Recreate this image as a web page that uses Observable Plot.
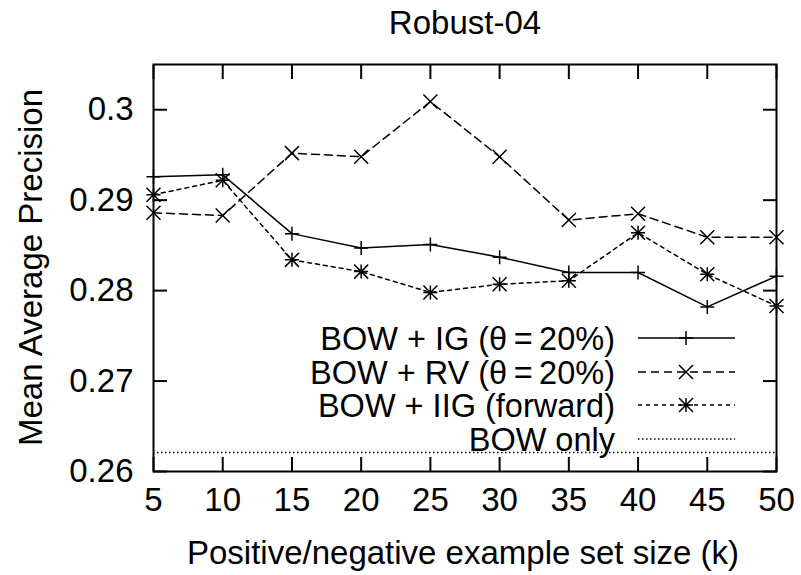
<!DOCTYPE html>
<html><head><meta charset="utf-8">
<script src="https://cdn.jsdelivr.net/npm/d3@7"></script>
<script src="https://cdn.jsdelivr.net/npm/@observablehq/plot@0.6"></script>
<style>html,body{margin:0;padding:0;background:#fff;} #chart{width:801px;height:575px;}</style>
</head><body><div id="chart"></div>
<script>
// ---- data ----
const chartTitle = "Robust-04";
const xLabel = "Positive/negative example set size (k)";
const yLabel = "Mean Average Precision";
const ks = [5, 10, 15, 20, 25, 30, 35, 40, 45, 50];
const igValues  = [0.2926, 0.2928, 0.2863, 0.2847, 0.2851, 0.2837, 0.2820, 0.2820, 0.2782, 0.2816];
const rvValues  = [0.2886, 0.2883, 0.2952, 0.2948, 0.3009, 0.2948, 0.2878, 0.2885, 0.2859, 0.2859];
const iigValues = [0.2906, 0.2922, 0.2834, 0.2821, 0.2798, 0.2807, 0.2811, 0.2864, 0.2818, 0.2783];
const bowOnly = 0.2621;
const xTicks = [5, 10, 15, 20, 25, 30, 35, 40, 45, 50];
const yTicks = [0.26, 0.27, 0.28, 0.29, 0.30];
const seriesNames = ["BOW + IG (\u03b8\u2009=\u200920%)", "BOW + RV (\u03b8\u2009=\u200920%)", "BOW + IIG (forward)", "BOW only"];

// ---- styles ----
const FONT = "'Liberation Sans', Arial, Helvetica, sans-serif";
const FS = 33;
const gpPlus = {draw(c, s) {const r = Math.sqrt(s / Math.PI); c.moveTo(-r, 0); c.lineTo(r, 0); c.moveTo(0, -r); c.lineTo(0, r);}};
const gpTimes = {draw(c, s) {const r = Math.sqrt(s / Math.PI); c.moveTo(-r, -r); c.lineTo(r, r); c.moveTo(-r, r); c.lineTo(r, -r);}};
const gpStar = {draw(c, s) {gpPlus.draw(c, s); gpTimes.draw(c, s);}};
const styles = [
  {dash: null, symbol: gpPlus},
  {dash: "8,5", symbol: gpTimes},
  {dash: "4,4", symbol: gpStar},
  {dash: "1.5,2.5", symbol: null}
];
const R = 7;

const toRows = vals => ks.map((k, i) => ({k, v: vals[i]}));
const series = [igValues, rvValues, iigValues].map(toRows);

const lineMarks = [];
series.forEach((rows, i) => {
  lineMarks.push(Plot.line(rows, {x: "k", y: "v", stroke: "black", strokeWidth: 1.5, strokeDasharray: styles[i].dash}));
  lineMarks.push(Plot.dot(rows, {x: "k", y: "v", symbol: styles[i].symbol, r: R, stroke: "black", fill: "none", strokeWidth: 1.5}));
});

const blank = () => "";
const plot = Plot.plot({
  width: 801, height: 575,
  marginLeft: 153, marginRight: 25, marginTop: 64, marginBottom: 104,
  style: {fontFamily: FONT, fontSize: FS + "px", background: "white", color: "black"},
  x: {domain: [5, 50], ticks: xTicks},
  y: {domain: [0.26, 0.305], ticks: yTicks},
  marks: [
    Plot.ruleY([bowOnly], {stroke: "black", strokeWidth: 1.3, strokeDasharray: "1.5,2.5"}),
    ...lineMarks,
    Plot.axisX({anchor: "bottom", ticks: xTicks, tickSize: -14, strokeWidth: 2, tickFormat: blank, label: null}),
    Plot.axisX({anchor: "top", ticks: xTicks, tickSize: -14, strokeWidth: 2, tickFormat: blank, label: null}),
    Plot.axisY({anchor: "left", ticks: yTicks, tickSize: -14, strokeWidth: 2, tickFormat: blank, label: null}),
    Plot.axisY({anchor: "right", ticks: yTicks, tickSize: -14, strokeWidth: 2, tickFormat: blank, label: null}),
    Plot.axisX({anchor: "bottom", ticks: xTicks, tickSize: 0, tickPadding: 16, fontSize: FS, label: null}),
    Plot.axisY({anchor: "left", ticks: yTicks, tickSize: 0, tickPadding: 20, fontSize: FS, label: null,
      tickFormat: d => String(+d.toFixed(2))}),
    Plot.frame({stroke: "black", strokeWidth: 2})
  ]
});
document.getElementById("chart").appendChild(plot);

// ---- titles & legend ----
const svg = d3.select(plot);
const txt = (x, y, s, anchor, rot, fs = FS) => {
  const t = svg.append("text").attr("x", x).attr("y", y).attr("text-anchor", anchor)
    .attr("font-family", FONT).attr("font-size", fs).attr("fill", "black").text(s);
  if (rot) t.attr("transform", `rotate(${rot},${x},${y})`);
  return t;
};
txt(465, 34, chartTitle, "middle");
txt(463, 564, xLabel, "middle");
txt(42, 267.5, yLabel, "middle", -90);

const legY = [338, 372, 405, 439];
const leg = svg.append("g");
seriesNames.forEach((name, i) => {
  const y = legY[i];
  txt(615, y + 11.5, name, "end", 0, 32.5);
  leg.append("line").attr("x1", 638).attr("x2", 735).attr("y1", y).attr("y2", y)
    .attr("stroke", "black").attr("stroke-width", i === 3 ? 1.3 : 1.5)
    .attr("stroke-dasharray", styles[i].dash);
  if (styles[i].symbol) {
    leg.append("path").attr("transform", `translate(686,${y})`)
      .attr("d", d3.symbol(styles[i].symbol, Math.PI * R * R)())
      .attr("stroke", "black").attr("fill", "none").attr("stroke-width", 1.5);
  }
});
</script>
</body></html>
